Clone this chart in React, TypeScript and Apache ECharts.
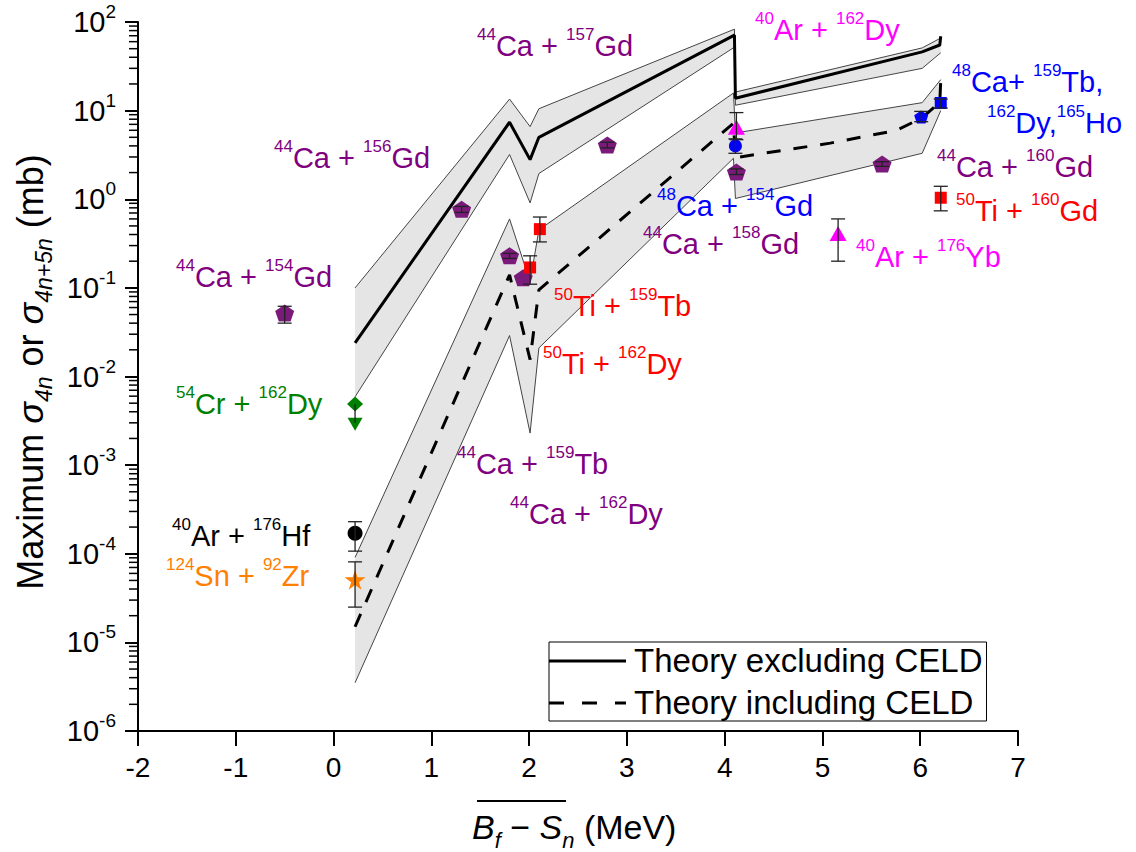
import React, { useEffect, useRef } from 'react';
import * as echarts from 'echarts';

const FONT = '"Liberation Sans", Arial, Helvetica, sans-serif';
const PURPLE = '#800080';
const RED = '#ff0000';
const MAGENTA = '#ff00ff';
const BLUE = '#0000ff';
const GREEN = '#008000';
const ORANGE = '#ff8000';
const BLACK = '#000000';

// Theory excluding CELD (solid) and its band
const EXCL_X = [0.22, 1.8, 2.01, 2.1, 4.1, 4.11, 6.02, 6.2, 6.21];
const EXCL_Y = [0.024, 7.4, 2.8, 5.0, 71, 13.8, 46, 55, 69];
const EXCL_BAND_X = [0.22, 1.8, 2.01, 2.1, 4.1, 4.11, 6.02, 6.21];
const EXCL_UP = [0.1, 13.5, 6.6, 10.5, 83, 16.2, 51, 66];
const EXCL_LO = [0.0059, 3.2, 0.91, 1.95, 52, 11.5, 30, 45];

// Theory including CELD (dashed) and its band
const INCL_X = [0.22, 1.8, 2.01, 2.1, 4.09, 4.11, 5.08, 5.76, 6.02, 6.2, 6.21];
const INCL_Y = [1.5e-5, 0.14, 0.0155, 0.095, 7.2, 2.95, 4.3, 6.0, 8.3, 12.4, 22];
const INCL_BAND_X = [0.22, 1.8, 2.01, 2.1, 4.09, 4.11, 6.02, 6.21];
const INCL_UP = [9.1e-5, 0.6, 0.117, 0.45, 15.8, 5.6, 12.3, 22.4];
const INCL_LO = [3.5e-6, 0.029, 0.0023, 0.021, 2.9, 1.02, 3.3, 10];

// Experimental points
// 44Ca + 154Gd, 156Gd, 157Gd, 159Tb, 162Dy, 158Gd, 160Gd
const CA44_X = [-0.5, 1.31, 2.8, 1.8, 1.94, 4.12, 5.61];
const CA44_Y = [0.052, 0.77, 4.1, 0.23, 0.13, 2.03, 2.5];
// 50Ti + 159Tb, 162Dy, 160Gd
const TI50_X = [2.11, 2.01, 6.21];
const TI50_Y = [0.46, 0.17, 1.04];
// 40Ar + 162Dy, 176Yb
const AR40_X = [4.12, 5.16];
const AR40_Y = [6.5, 0.41];
// 48Ca + 154Gd (circle), 162Dy (pentagon), 159Tb/165Ho (square)
const CA48C_X = [4.11];
const CA48C_Y = [4.0];
const CA48P_X = [6.01];
const CA48P_Y = [8.5];
const CA48S_X = [6.21];
const CA48S_Y = [12.2];
// 54Cr + 162Dy
const CR54_D_X = [0.22];
const CR54_D_Y = [0.0049];
const CR54_T_X = [0.22];
const CR54_T_Y = [0.0029];
// 40Ar + 176Hf
const AR40HF_X = [0.22];
const AR40HF_Y = [1.7e-4];
// 124Sn + 92Zr
const SN124_X = [0.22];
const SN124_Y = [5.1e-5];

// Error bars
const ERR_X = [-0.5, 1.31, 2.8, 1.8, 2.01, 2.11, 4.12, 4.11, 4.12, 5.61, 6.01, 6.21, 6.21, 5.16, 0.22, 0.22, 0.22];
const ERR_LO = [0.04, 0.71, 3.8, 0.215, 0.11, 0.33, 4.7, 3.3, 1.9, 2.35, 7.5, 10.7, 0.74, 0.2, 0.003, 1.07e-4, 2.5e-5];
const ERR_HI = [0.062, 0.83, 4.4, 0.245, 0.23, 0.63, 9.5, 4.8, 2.2, 2.65, 9.8, 13.5, 1.4, 0.6, 0.0049, 2.3e-4, 8.1e-5];
const ERR_CAP = [1, 1, 1, 1, 1, 1, 1, 1, 1, 1, 1, 1, 1, 1, 0, 1, 1];

// Y-axis minor ticks (2..9 in each decade)
const DECADES = [1e-6, 1e-5, 1e-4, 1e-3, 1e-2, 1e-1, 1, 10];
const MINOR_MULT = [2, 3, 4, 5, 6, 7, 8, 9];

const LEGEND_NAMES = ['Theory excluding CELD', 'Theory including CELD'];

// Annotations
const LABELS = [
  { p1: '44', a: 'Ca + ', p2: '157', b: 'Gd', color: PURPLE, x: 477, y: 55 },
  { p1: '40', a: 'Ar + ', p2: '162', b: 'Dy', color: MAGENTA, x: 755, y: 39 },
  { p1: '44', a: 'Ca + ', p2: '156', b: 'Gd', color: PURPLE, x: 274, y: 167 },
  { p1: '48', a: 'Ca+ ', p2: '159', b: 'Tb,', color: BLUE, x: 952, y: 91 },
  { p1: '162', a: 'Dy,', p2: '165', b: 'Ho', color: BLUE, x: 987, y: 132 },
  { p1: '44', a: 'Ca + ', p2: '160', b: 'Gd', color: PURPLE, x: 937, y: 176 },
  { p1: '48', a: 'Ca + ', p2: '154', b: 'Gd', color: BLUE, x: 657, y: 215 },
  { p1: '50', a: 'Ti + ', p2: '160', b: 'Gd', color: RED, x: 956, y: 220 },
  { p1: '44', a: 'Ca + ', p2: '158', b: 'Gd', color: PURPLE, x: 643, y: 253 },
  { p1: '40', a: 'Ar + ', p2: '176', b: 'Yb', color: MAGENTA, x: 856, y: 266 },
  { p1: '44', a: 'Ca + ', p2: '154', b: 'Gd', color: PURPLE, x: 176, y: 286 },
  { p1: '50', a: 'Ti + ', p2: '159', b: 'Tb', color: RED, x: 554, y: 315 },
  { p1: '50', a: 'Ti + ', p2: '162', b: 'Dy', color: RED, x: 543, y: 373 },
  { p1: '54', a: 'Cr + ', p2: '162', b: 'Dy', color: GREEN, x: 176, y: 413 },
  { p1: '44', a: 'Ca + ', p2: '159', b: 'Tb', color: PURPLE, x: 457, y: 473 },
  { p1: '44', a: 'Ca + ', p2: '162', b: 'Dy', color: PURPLE, x: 510, y: 523 },
  { p1: '40', a: 'Ar + ', p2: '176', b: 'Hf', color: BLACK, x: 172, y: 545 },
  { p1: '124', a: 'Sn + ', p2: '92', b: 'Zr', color: ORANGE, x: 166, y: 585 },
];

const PENTAGON = 'path://M50,0 L100,38 L81,100 L19,100 L0,38 Z';
const STAR = 'path://M50,0 L61,35 L98,35 L68,57 L79,91 L50,70 L21,91 L32,57 L2,35 L39,35 Z';

const zip = (xs: number[], ys: number[]) => xs.map((x, i) => [x, ys[i]]);

function bandSeries(xs: number[], up: number[], lo: number[]) {
  return {
    type: 'custom',
    coordinateSystem: 'cartesian2d',
    silent: true,
    z: 1,
    data: [[xs[0], up[0]]],
    renderItem: (_params: any, api: any) => {
      const pts: number[][] = [];
      for (let i = 0; i < xs.length; i++) pts.push(api.coord([xs[i], up[i]]));
      for (let i = xs.length - 1; i >= 0; i--) pts.push(api.coord([xs[i], lo[i]]));
      return { type: 'polygon', shape: { points: pts }, style: { fill: '#e5e5e5', stroke: null } };
    },
  };
}

function edgeSeries(xs: number[], ys: number[]) {
  return {
    type: 'line',
    data: zip(xs, ys),
    symbol: 'none',
    silent: true,
    z: 2,
    lineStyle: { color: '#444', width: 1 },
  };
}

function scatter(xs: number[], ys: number[], symbol: string, size: any, color: string, rotate = 0) {
  return {
    type: 'scatter',
    data: zip(xs, ys),
    symbol,
    symbolSize: size,
    symbolRotate: rotate,
    silent: true,
    z: 4,
    itemStyle: { color, opacity: 1 },
  };
}

export default function App() {
  const ref = useRef<HTMLDivElement>(null);

  useEffect(() => {
    if (!ref.current) return;
    const chart = echarts.init(ref.current, undefined, { renderer: 'svg' });

    const minor: number[][] = [];
    DECADES.forEach((d) => MINOR_MULT.forEach((m) => minor.push([-2, d * m])));

    const labelGraphics = LABELS.map((l) => ({
      type: 'text',
      x: l.x,
      y: l.y - 9,
      z: 100,
      silent: true,
      style: {
        text: `{s|${l.p1}}{m|${l.a}}{s|${l.p2}}{m|${l.b}}`,
        align: 'left',
        verticalAlign: 'middle',
        textAlign: 'left',
        textVerticalAlign: 'middle',
        fill: l.color,
        rich: {
          m: { fontSize: 29, lineHeight: 40, fontFamily: FONT, fill: l.color },
          s: { fontSize: 17, lineHeight: 20, verticalAlign: 'top', fontFamily: FONT, fill: l.color },
        },
      },
    }));

    const option: any = {
      animation: false,
      backgroundColor: '#ffffff',
      grid: { left: 138, right: 118, top: 22, bottom: 121 },
      legend: {
        data: LEGEND_NAMES.map((name) => ({ name, icon: 'none' })),
        orient: 'vertical',
        left: 549,
        top: 642,
        padding: [2, 4, 2, 0],
        itemGap: 9,
        itemWidth: 80,
        itemHeight: 14,
        borderColor: '#000',
        borderWidth: 1,
        backgroundColor: '#fff',
        selectedMode: false,
        z: 50,
        textStyle: { fontSize: 33, color: '#000', fontFamily: FONT },
      },
      xAxis: {
        type: 'value',
        min: -2,
        max: 7,
        interval: 1,
        axisLine: { onZero: false, lineStyle: { color: '#000', width: 2 } },
        axisTick: { length: 15, lineStyle: { color: '#000', width: 2 } },
        axisLabel: { fontSize: 28, color: '#000', margin: 22, fontFamily: FONT },
        splitLine: { show: false },
      },
      yAxis: {
        type: 'log',
        logBase: 10,
        min: 1e-6,
        max: 100,
        axisLine: { onZero: false, lineStyle: { color: '#000', width: 2 } },
        axisTick: { length: 13, lineStyle: { color: '#000', width: 2 } },
        axisLabel: {
          margin: 22,
          formatter: (v: number) => `{b|10}{e|${Math.round(Math.log10(v))}}`,
          rich: {
            b: { fontSize: 29, lineHeight: 40, color: '#000', fontFamily: FONT },
            e: { fontSize: 19, lineHeight: 20, verticalAlign: 'top', color: '#000', fontFamily: FONT },
          },
        },
        splitLine: { show: false },
      },
      graphic: [
        ...labelGraphics,
        // legend line samples
        {
          type: 'line',
          z: 120,
          silent: true,
          shape: { x1: 549, y1: 661, x2: 626, y2: 661 },
          style: { stroke: '#000', lineWidth: 3 },
        },
        {
          type: 'line',
          z: 120,
          silent: true,
          shape: { x1: 549, y1: 703, x2: 626, y2: 703 },
          style: { stroke: '#000', lineWidth: 3, lineDash: [15, 18] },
        },
        {
          type: 'text',
          x: 30,
          y: 372,
          z: 100,
          rotation: Math.PI / 2,
          silent: true,
          style: {
            text: '{m|Maximum }{g|σ}{s|4n}{m| or }{g|σ}{s|4n+5n}{m| (mb)}',
            align: 'center',
            verticalAlign: 'middle',
            textAlign: 'center',
            textVerticalAlign: 'middle',
            fill: '#000',
            rich: {
              m: { fontSize: 36, lineHeight: 50, fontFamily: FONT, fill: '#000' },
              g: { fontSize: 36, lineHeight: 50, fontStyle: 'italic', fontFamily: FONT, fill: '#000' },
              s: { fontSize: 23, lineHeight: 24, fontStyle: 'italic', verticalAlign: 'bottom', fontFamily: FONT, fill: '#000' },
            },
          },
        },
        {
          type: 'text',
          x: 472,
          y: 827,
          z: 100,
          silent: true,
          style: {
            text: '{i|B}{si|f}{m| − }{i|S}{si|n}{m| (MeV)}',
            align: 'left',
            verticalAlign: 'middle',
            textAlign: 'left',
            textVerticalAlign: 'middle',
            fill: '#000',
            rich: {
              m: { fontSize: 34, lineHeight: 48, fontFamily: FONT, fill: '#000' },
              i: { fontSize: 34, lineHeight: 48, fontStyle: 'italic', fontFamily: FONT, fill: '#000' },
              si: { fontSize: 22, lineHeight: 22, fontStyle: 'italic', verticalAlign: 'bottom', fontFamily: FONT, fill: '#000' },
            },
          },
        },
        {
          type: 'line',
          z: 100,
          silent: true,
          shape: { x1: 477, y1: 801, x2: 566, y2: 801 },
          style: { stroke: '#000', lineWidth: 2 },
        },
      ],
      series: [
        bandSeries(EXCL_BAND_X, EXCL_UP, EXCL_LO),
        bandSeries(INCL_BAND_X, INCL_UP, INCL_LO),
        edgeSeries(EXCL_BAND_X, EXCL_UP),
        edgeSeries(EXCL_BAND_X, EXCL_LO),
        edgeSeries(INCL_BAND_X, INCL_UP),
        edgeSeries(INCL_BAND_X, INCL_LO),
        {
          name: LEGEND_NAMES[0],
          type: 'line',
          data: zip(EXCL_X, EXCL_Y),
          symbol: 'none',
          silent: true,
          z: 3,
          lineStyle: { color: '#000', width: 3 },
          itemStyle: { color: '#000' },
        },
        {
          name: LEGEND_NAMES[1],
          type: 'line',
          data: zip(INCL_X, INCL_Y),
          symbol: 'none',
          silent: true,
          z: 3,
          lineStyle: { color: '#000', width: 3, type: [14, 13] },
          itemStyle: { color: '#000' },
        },
        scatter(CA44_X, CA44_Y, PENTAGON, [19, 17], '#7a1a7a'),
        scatter(TI50_X, TI50_Y, 'rect', 12, RED),
        scatter(AR40_X, AR40_Y, 'triangle', [17, 15], MAGENTA),
        scatter(CA48C_X, CA48C_Y, 'circle', 13, BLUE),
        scatter(CA48P_X, CA48P_Y, PENTAGON, [14, 13], BLUE),
        scatter(CA48S_X, CA48S_Y, 'rect', 12, BLUE),
        scatter(CR54_D_X, CR54_D_Y, 'diamond', [16, 15], GREEN),
        scatter(CR54_T_X, CR54_T_Y, 'triangle', [15, 13], GREEN, 180),
        scatter(AR40HF_X, AR40HF_Y, 'circle', 15, BLACK),
        scatter(SN124_X, SN124_Y, STAR, [21, 20], ORANGE),
        {
          type: 'custom',
          coordinateSystem: 'cartesian2d',
          silent: true,
          z: 6,
          data: ERR_X.map((x, i) => [x, ERR_LO[i], ERR_HI[i], ERR_CAP[i]]),
          encode: { x: 0, y: [1, 2] },
          renderItem: (_params: any, api: any) => {
            const x = api.value(0);
            const lo = api.coord([x, api.value(1)]);
            const hi = api.coord([x, api.value(2)]);
            const st = { stroke: '#222', lineWidth: 1.3 };
            const children: any[] = [
              { type: 'line', shape: { x1: lo[0], y1: lo[1], x2: hi[0], y2: hi[1] }, style: st },
            ];
            if (api.value(3)) {
              children.push({ type: 'line', shape: { x1: lo[0] - 7, y1: lo[1], x2: lo[0] + 7, y2: lo[1] }, style: st });
              children.push({ type: 'line', shape: { x1: hi[0] - 7, y1: hi[1], x2: hi[0] + 7, y2: hi[1] }, style: st });
            }
            return { type: 'group', children };
          },
        },
        {
          type: 'custom',
          coordinateSystem: 'cartesian2d',
          silent: true,
          clip: false,
          z: 6,
          data: minor,
          renderItem: (_params: any, api: any) => {
            const p = api.coord([api.value(0), api.value(1)]);
            return {
              type: 'line',
              shape: { x1: p[0] - 9, y1: p[1], x2: p[0], y2: p[1] },
              style: { stroke: '#000', lineWidth: 1.5 },
            };
          },
        },
      ],
    };

    chart.setOption(option);
    return () => chart.dispose();
  }, []);

  return (
    <div
      ref={ref}
      style={{ position: 'fixed', left: 0, top: 0, width: 1136, height: 852, background: '#fff' }}
    />
  );
}
